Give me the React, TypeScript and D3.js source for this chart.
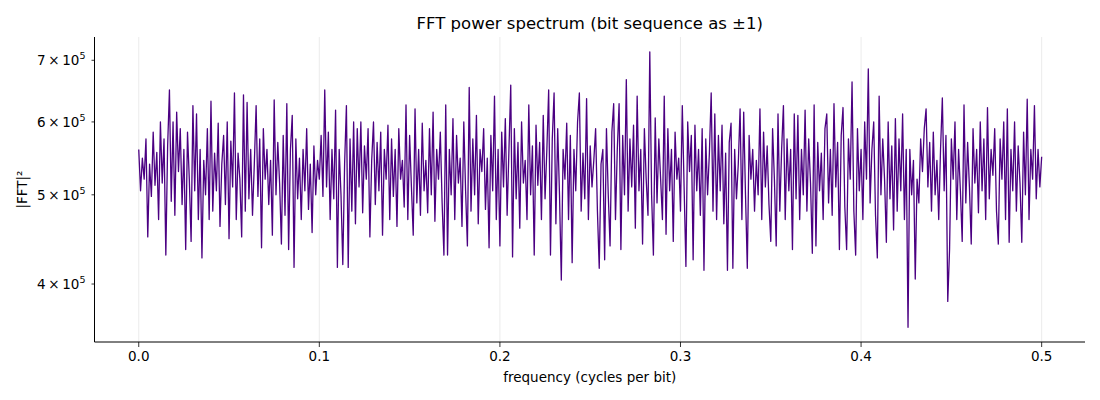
import * as d3 from "d3";

// |FFT|^2 in thousands, one value per 0.001 cycles/bit
const power = [
  560, 505, 548, 520, 575, 450, 540, 498, 585, 512, 556, 470, 600, 515, 575, 430, 565, 650, 492, 600,
  475, 615, 530, 590, 488, 560, 436, 585, 520, 445, 625, 505, 612, 470, 560, 427, 545, 500, 590, 470,
  632, 480, 555, 505, 598, 462, 540, 580, 488, 600, 448, 572, 510, 645, 470, 555, 520, 450, 642, 480,
  630, 495, 560, 475, 540, 625, 498, 575, 438, 590, 520, 560, 488, 545, 452, 634, 500, 570, 515, 442,
  580, 475, 628, 436, 560, 610, 417, 575, 495, 548, 470, 560, 505, 590, 482, 540, 455, 565, 500, 545,
  520, 580, 498, 650, 510, 585, 470, 560, 495, 618, 417, 560, 500, 420, 540, 625, 417, 575, 480, 600,
  465, 590, 510, 600, 478, 565, 520, 590, 450, 545, 600, 488, 570, 505, 585, 452, 560, 520, 595, 470,
  575, 498, 560, 462, 590, 520, 545, 485, 626, 470, 580, 510, 452, 620, 490, 560, 475, 598, 505, 545,
  478, 590, 500, 615, 468, 560, 520, 585, 490, 430, 626, 430, 560, 500, 605, 470, 580, 515, 548, 462,
  600, 505, 440, 654, 480, 575, 500, 610, 465, 560, 530, 590, 482, 548, 438, 580, 505, 640, 470, 560,
  440, 585, 510, 605, 475, 560, 658, 428, 590, 495, 570, 460, 600, 515, 545, 470, 626, 500, 565, 430,
  595, 512, 570, 470, 610, 495, 560, 650, 430, 575, 645, 465, 590, 500, 404, 560, 520, 598, 470, 580,
  422, 560, 505, 600, 645, 480, 555, 495, 636, 470, 565, 510, 545, 590, 480, 416, 540, 560, 425, 590,
  500, 440, 585, 628, 470, 560, 628, 436, 580, 500, 667, 480, 575, 510, 595, 460, 640, 505, 560, 442,
  590, 520, 475, 715, 500, 430, 606, 490, 575, 520, 470, 640, 453, 590, 505, 560, 445, 585, 520, 548,
  480, 625, 510, 418, 600, 530, 580, 425, 595, 505, 560, 475, 590, 414, 575, 500, 555, 645, 480, 612,
  470, 580, 505, 595, 465, 555, 414, 570, 598, 416, 560, 495, 540, 620, 470, 615, 500, 416, 580, 520,
  560, 480, 545, 500, 620, 470, 585, 510, 565, 488, 445, 590, 520, 440, 612, 480, 560, 625, 470, 575,
  505, 560, 436, 612, 495, 610, 470, 560, 500, 618, 480, 575, 515, 432, 626, 440, 570, 505, 555, 470,
  590, 612, 490, 560, 475, 628, 510, 570, 436, 580, 622, 485, 436, 575, 520, 663, 480, 430, 590, 505,
  560, 470, 600, 520, 685, 490, 560, 600, 475, 427, 640, 500, 575, 520, 444, 600, 495, 565, 458, 605,
  480, 575, 505, 612, 470, 560, 359, 560, 500, 545, 405, 520, 490, 575, 530, 590, 620, 510, 570, 480,
  585, 500, 545, 470, 560, 637, 505, 580, 383, 436, 575, 520, 600, 470, 560, 505, 445, 626, 490, 570,
  510, 442, 590, 515, 560, 478, 600, 505, 575, 470, 622, 495, 560, 525, 590, 480, 442, 575, 520, 600,
  470, 620, 444, 560, 505, 600, 480, 565, 515, 444, 585, 500, 635, 470, 560, 520, 625, 495, 560, 510,
  550,
];
const freqStep = 0.001;

const xTicks = [0, 0.1, 0.2, 0.3, 0.4, 0.5];
const yTicks = [4e5, 5e5, 6e5, 7e5];
const yTickMantissa = ["4", "5", "6", "7"];

const title = "FFT power spectrum (bit sequence as \u00b11)";
const xTitle = "frequency (cycles per bit)";
const yTitle = "|FFT|\u00b2";

export default function App() {
  const width = 1100;
  const height = 400;
  const left = 94.5;
  const right = 1085;
  const top = 37;
  const bottom = 342;
  const font = "DejaVu Sans, sans-serif";

  const x = d3.scaleLinear().domain([-0.0245, 0.524]).range([left, right]);
  const y = d3.scaleLog().domain([3.46e5, 7.42e5]).range([bottom, top]);

  const pts = power.map((v, i) => ({ f: i * freqStep, p: v * 1000 }));
  const line = d3
    .line<{ f: number; p: number }>()
    .x((d) => x(d.f))
    .y((d) => y(d.p));

  return (
    <svg
      width={width}
      height={height}
      style={{ position: "absolute", left: 0, top: 0, background: "white" }}
      fontFamily={font}
    >
      {xTicks.map((t) => (
        <line key={"g" + t} x1={x(t)} x2={x(t)} y1={top} y2={bottom} stroke="#e6e6e6" strokeWidth={0.8} />
      ))}
      <path d={line(pts) || undefined} fill="none" stroke="#4b0082" strokeWidth={1.3} strokeLinejoin="round" />
      <line x1={left} x2={left} y1={top} y2={bottom} stroke="black" strokeWidth={1} />
      <line x1={left} x2={right} y1={bottom} y2={bottom} stroke="black" strokeWidth={1} />
      {xTicks.map((t) => (
        <g key={"x" + t}>
          <line x1={x(t)} x2={x(t)} y1={bottom} y2={bottom + 5} stroke="black" strokeWidth={0.8} />
          <text x={x(t)} y={bottom + 19} textAnchor="middle" fontSize={13.5}>
            {t.toFixed(1)}
          </text>
        </g>
      ))}
      {yTicks.map((t, i) => (
        <g key={"y" + t}>
          <line x1={left - 3} x2={left} y1={y(t)} y2={y(t)} stroke="black" strokeWidth={0.8} />
          <text x={left - 9} y={y(t) + 5} textAnchor="end" fontSize={13.5}>
            {yTickMantissa[i]}
            {"\u2009\u00d7\u200910"}
            <tspan dy={-6} fontSize={9.5}>
              5
            </tspan>
          </text>
        </g>
      ))}
      <text x={(left + right) / 2} y={29} textAnchor="middle" fontSize={16.5}>
        {title}
      </text>
      <text x={(left + right) / 2} y={382} textAnchor="middle" fontSize={13.5}>
        {xTitle}
      </text>
      <text
        transform={`translate(27, ${(top + bottom) / 2}) rotate(-90)`}
        textAnchor="middle"
        fontSize={13.5}
      >
        {yTitle}
      </text>
    </svg>
  );
}
